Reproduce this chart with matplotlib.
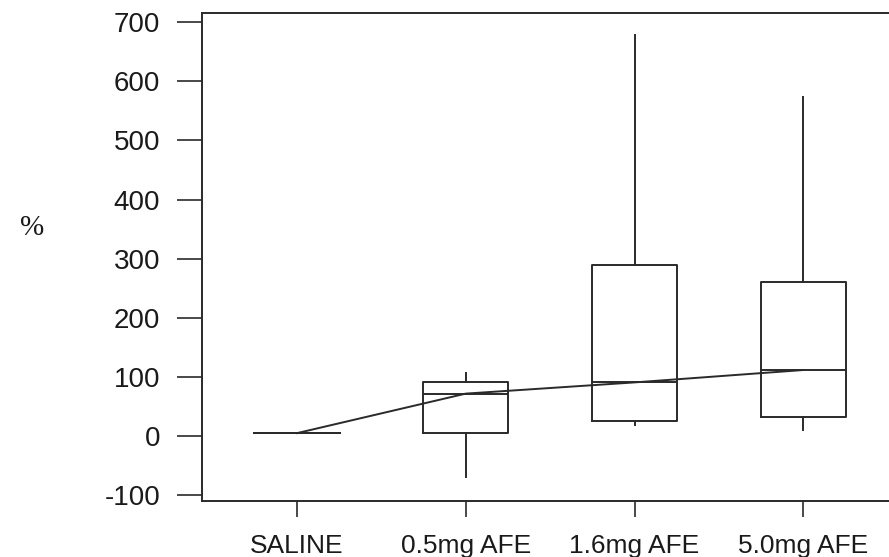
import matplotlib
matplotlib.use("Agg")
import matplotlib.pyplot as plt

categories = ["SALINE", "0.5mg AFE", "1.6mg AFE", "5.0mg AFE"]
whisker_low = [4, -70, 17, 9]
q1 = [4, 5, 25, 31]
median = [4, 71, 90, 111]
q3 = [4, 91, 289, 260]
whisker_high = [4, 106, 679, 574]
yticks = [-100, 0, 100, 200, 300, 400, 500, 600, 700]

plt.rcParams["font.family"] = ["Liberation Sans", "DejaVu Sans"]

fig = plt.figure(figsize=(8.89, 5.57), dpi=100)
ax = fig.add_axes([202 / 889, 1 - 501 / 557, 700 / 889, (501 - 12.7) / 557])

positions = list(range(1, len(categories) + 1))
stats = []
for i, c in enumerate(categories):
    stats.append(dict(label=c, whislo=whisker_low[i], q1=q1[i], med=median[i],
                      q3=q3[i], whishi=whisker_high[i], fliers=[]))

col = "#2a2a2a"
ax.bxp(stats, positions=positions, widths=0.505, showcaps=False, showfliers=False,
       boxprops=dict(color=col, linewidth=1.4),
       whiskerprops=dict(color=col, linewidth=1.4),
       medianprops=dict(color=col, linewidth=1.4))

ax.plot(positions, median, color=col, linewidth=1.4)

ax.set_xlim(0.4375, 0.4375 + 700 / 168.8)
ax.set_ylim(-111, 716.6)
ax.set_yticks(yticks)
ax.set_yticklabels([str(v) for v in yticks], fontsize=20, color="#1a1a1a")
ax.set_xticks(positions)
ax.set_xticklabels(categories, fontsize=19, color="#1a1a1a")
ax.tick_params(axis="y", length=18, width=1.2, color=col, pad=12)
ax.tick_params(axis="x", length=11.5, width=1.2, color=col, pad=12.5)
for s in ax.spines.values():
    s.set_color(col)
    s.set_linewidth(1.4)

fig.text(32 / 889, 1 - 228 / 557, "%", fontsize=21, family=["Liberation Serif", "DejaVu Serif"],
         ha="center", va="center", color="#1a1a1a")

fig.savefig("out.png", dpi=100)
